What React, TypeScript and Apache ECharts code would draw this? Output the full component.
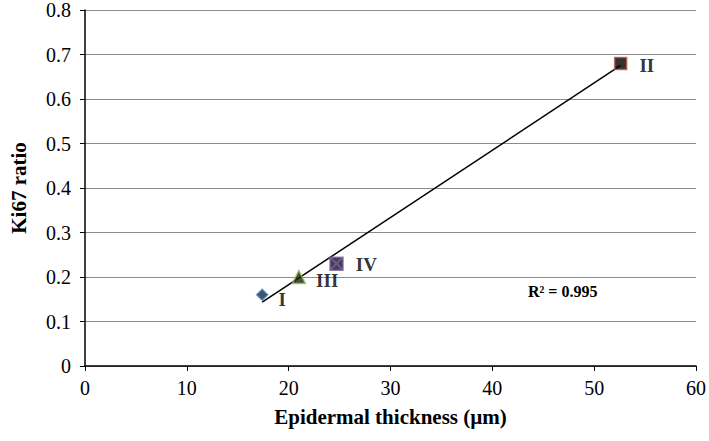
import React, { useEffect, useRef } from "react";
import * as echarts from "echarts";

const pointNames = ["I", "II", "III", "IV"];
const thickness = [17.4, 52.6, 21.0, 24.7];
const ki67 = [0.16, 0.68, 0.2, 0.23];
const xTicks = [0, 10, 20, 30, 40, 50, 60];
const yTicks = [0, 0.1, 0.2, 0.3, 0.4, 0.5, 0.6, 0.7, 0.8];
const r2Text = "R² = 0.995";

const symbols = [
  "diamond",
  "rect",
  "triangle",
  "path://M0,0H10V10H0Z M0,0L10,10 M10,0L0,10",
];
const fills = ["#14284a", "#000000", "#1a260c", "#15122a"];
const borders = ["#4F81BD", "#C0504D", "#9BBB59", "#8064A2"];
const sizes = [11, 12, 13, 13];
const labelOffsets = [[2, 5], [4, 2], [2, 3], [4, 1]];

function regression(xs: number[], ys: number[]) {
  const n = xs.length;
  const mx = xs.reduce((a, b) => a + b, 0) / n;
  const my = ys.reduce((a, b) => a + b, 0) / n;
  let sxy = 0, sxx = 0;
  for (let i = 0; i < n; i++) {
    sxy += (xs[i] - mx) * (ys[i] - my);
    sxx += (xs[i] - mx) * (xs[i] - mx);
  }
  const slope = sxy / sxx;
  return { slope, intercept: my - slope * mx };
}

export default function App() {
  const ref = useRef<HTMLDivElement>(null);
  useEffect(() => {
    document.body.style.margin = "0";
    if (!ref.current) return;
    const chart = echarts.init(ref.current, null, { renderer: "svg" });
    const { slope, intercept } = regression(thickness, ki67);
    const xMin = Math.min(...thickness);
    const xMax = Math.max(...thickness);
    const serif = "Liberation Serif";
    chart.setOption({
      animation: false,
      backgroundColor: "#ffffff",
      grid: { left: 82, right: 11, top: 8, bottom: 75 },
      xAxis: {
        type: "value",
        min: xTicks[0],
        max: xTicks[xTicks.length - 1],
        interval: 10,
        name: "Epidermal thickness (µm)",
        nameLocation: "middle",
        nameGap: 40,
        nameTextStyle: { fontFamily: serif, fontWeight: "bold", fontSize: 21, color: "#000" },
        axisLine: { show: true, lineStyle: { color: "#000", width: 1.5 } },
        axisTick: { show: true, length: 5, lineStyle: { color: "#000" } },
        axisLabel: { fontFamily: serif, fontSize: 20, color: "#000", margin: 12 },
        splitLine: { show: false },
      },
      yAxis: {
        type: "value",
        min: yTicks[0],
        max: yTicks[yTicks.length - 1],
        interval: 0.1,
        name: "Ki67 ratio",
        nameLocation: "middle",
        nameGap: 56,
        nameTextStyle: { fontFamily: serif, fontWeight: "bold", fontSize: 21, color: "#000" },
        axisLine: { show: true, lineStyle: { color: "#000", width: 1.5 } },
        axisTick: { show: true, length: 5, lineStyle: { color: "#000" } },
        axisLabel: {
          fontFamily: serif,
          fontSize: 20,
          color: "#000",
          margin: 14,
          formatter: (v: number) => (Math.round(v * 10) / 10).toString(),
        },
        splitLine: { show: true, lineStyle: { color: "#8c8c8c", width: 1 } },
      },
      graphic: [
        {
          type: "text",
          left: 528,
          top: 283,
          style: { text: r2Text, fontFamily: serif, fontWeight: "bold", fontSize: 16, fill: "#000" },
        },
      ],
      series: [
        {
          type: "line",
          data: [
            [xMin, intercept + slope * xMin],
            [xMax, intercept + slope * xMax],
          ],
          symbol: "none",
          lineStyle: { color: "#000", width: 1.5 },
          z: 1,
          silent: true,
        },
        ...pointNames.map((nm, i) => ({
          type: "scatter",
          name: nm,
          data: [[thickness[i], ki67[i]]],
          symbol: symbols[i],
          symbolSize: sizes[i],
          itemStyle: { color: fills[i], borderColor: borders[i], borderWidth: 1.5 },
          z: 3,
          label: {
            show: true,
            formatter: nm,
            position: "right",
            distance: 8,
            offset: labelOffsets[i],
            fontFamily: serif,
            fontWeight: "bold",
            fontSize: 19,
            color: "#000",
          },
        })),
      ],
    });
    return () => chart.dispose();
  }, []);
  return <div ref={ref} style={{ width: 709, height: 441 }} />;
}
